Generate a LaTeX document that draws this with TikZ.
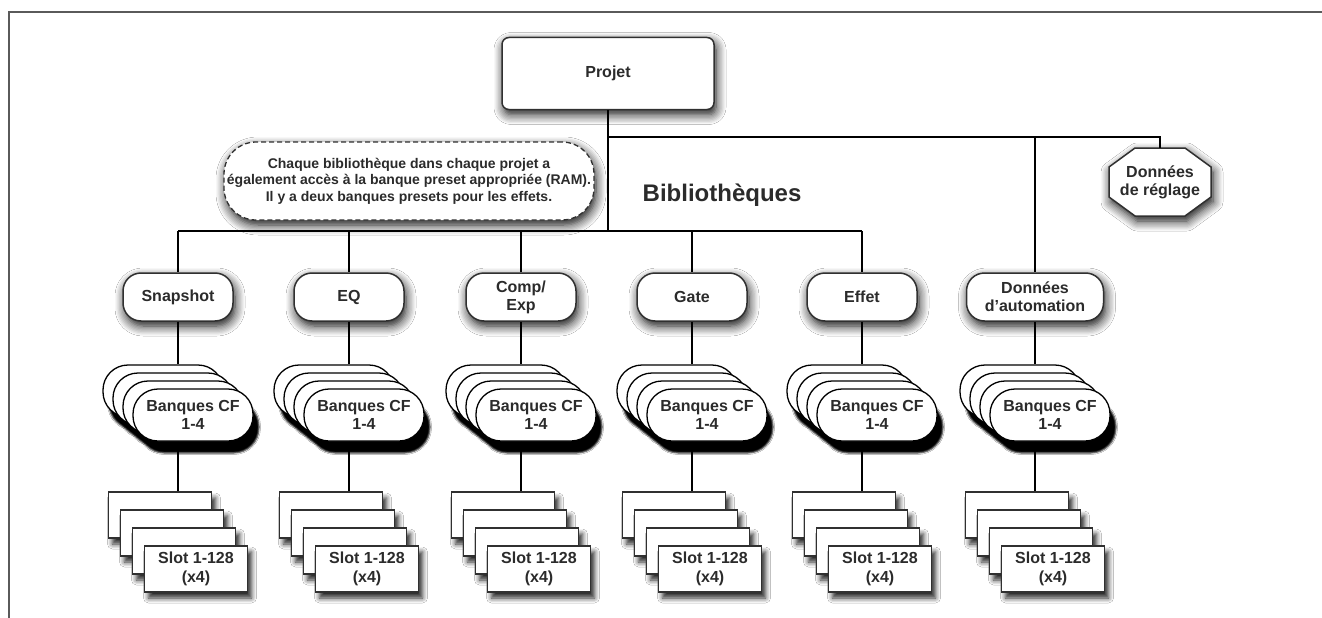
\documentclass[tikz,border=0pt]{standalone}
\usepackage{fontspec}
\setmainfont{Liberation Sans}
\usetikzlibrary{shadows.blur}
\definecolor{ink}{HTML}{2B2B2B}
\definecolor{edge}{HTML}{303030}
\definecolor{framec}{HTML}{5A5A5A}
\tikzset{
  conn/.style={draw=black, line width=1.3pt},
  frameline/.style={draw=framec, line width=1.6pt},
  softshadow/.style={blur shadow={shadow xshift=2pt, shadow yshift=-5pt, shadow blur radius=10pt, shadow opacity=95, shadow blur steps=8}},
  darkshadow/.style={blur shadow={shadow xshift=6pt, shadow yshift=-12pt, shadow blur radius=1.5pt, shadow opacity=100, shadow blur steps=3}},
  slotshadow/.style={blur shadow={shadow xshift=4pt, shadow yshift=-6pt, shadow blur radius=5pt, shadow opacity=85, shadow blur steps=5}},
  basefont/.style={text=ink, font=\fontsize{16}{18}\selectfont\bfseries, align=center},
  projbox/.style={basefont, draw=edge, fill=white, line width=1.5pt, rounded corners=7pt, minimum width=212pt, minimum height=72pt, inner sep=0pt, softshadow},
  callout/.style={text=ink, font=\fontsize{14}{16.5}\selectfont\bfseries, align=center, draw=edge, fill=white, line width=1.3pt, dash pattern=on 5pt off 3pt, rounded corners=32pt, minimum width=370pt, minimum height=78pt, inner sep=0pt, softshadow},
  bigtitle/.style={text=ink, font=\fontsize{24}{28}\selectfont\bfseries, inner sep=0pt},
  octshape/.style={draw=edge, fill=white, line width=1.5pt, softshadow},
  octo/.style={basefont, minimum width=100pt, minimum height=68pt, inner sep=0pt},
  libnode/.style={basefont, draw=edge, fill=white, line width=1.5pt, rounded corners=18pt, minimum height=48pt, inner sep=2pt, softshadow},
  bank/.style={basefont, draw=black, fill=white, line width=1.3pt, rounded corners=25pt, minimum width=120pt, minimum height=52pt, inner sep=0pt, darkshadow},
  slot/.style={text=ink, font=\fontsize{16}{19}\selectfont\bfseries, align=center, draw=edge, fill=white, line width=1.5pt, minimum width=103pt, minimum height=46pt, inner sep=0pt, slotshadow}
}
\begin{document}
\begin{tikzpicture}[x=1pt,y=-1pt]
\useasboundingbox[fill=white] (0,0) rectangle (1322,618);
\draw[frameline] (1322,12) -- (9,12) -- (9,618);

\node[projbox] (projet) at (608,73.5) {Projet};
\node[callout] (note) at (409,181) {Chaque bibliothèque dans chaque projet a\\également accès à la banque preset appropriée (RAM).\\Il y a deux banques presets pour les effets.};
\node[bigtitle] (biblio) at (722,195) {Bibliothèques};
\path[octshape] (1135,148) -- (1185,148) -- (1211,167) -- (1211,197) -- (1185,216) -- (1135,216) -- (1109,197) -- (1109,167) -- cycle;
\node[octo] (reglage) at (1160,182) {Données\\de réglage};

\coordinate (bus) at (0,231);
\coordinate (busL) at (178,231);
\coordinate (busR) at (862,231);
\coordinate (jbus) at (608,231);
\coordinate (jtop) at (608,137);
\coordinate (jreg) at (1160,137);
\coordinate (jauto) at (1035,137);

\foreach \n/\x/\w/\t in {snap/178/110/Snapshot, eq/349/110/EQ, comp/521/110/{Comp/\\Exp}, gate/692/110/Gate, effet/862/110/Effet, auto/1035/137/{Données\\d’automation}} {
  \node[libnode, minimum width=\w pt] (\n) at (\x,297) {\t};
  \foreach \k in {0,1,2} {
    \node[bank] (\n-B\k) at ({\x-15+10*\k},{391+8*\k}) {};
  }
  \node[bank] (\n-B3) at (\x+15,415) {Banques CF\\1-4};
  \foreach \k in {0,1,2} {
    \node[slot] (\n-S\k) at ({\x-18+12*\k},{515+18*\k}) {};
  }
  \node[slot] (\n-S3) at (\x+18,569) {Slot 1-128\\(x4)};
  \draw[conn] (\n.south) -- (\n.south |- \n-B0.north);
  \draw[conn] (\n.south |- \n-B3.south) -- (\n.south |- \n-S0.north);
}

\foreach \n in {snap,eq,comp,gate,effet} {
  \draw[conn] (\n.north |- bus) -- (\n.north);
}
\draw[conn] (busL) -- (busR);
\draw[conn] (projet.south) -- (jbus);
\draw[conn] (jtop) -- (jreg) -- (reglage.north);
\draw[conn] (jauto) -- (auto.north);
\end{tikzpicture}
\end{document}
